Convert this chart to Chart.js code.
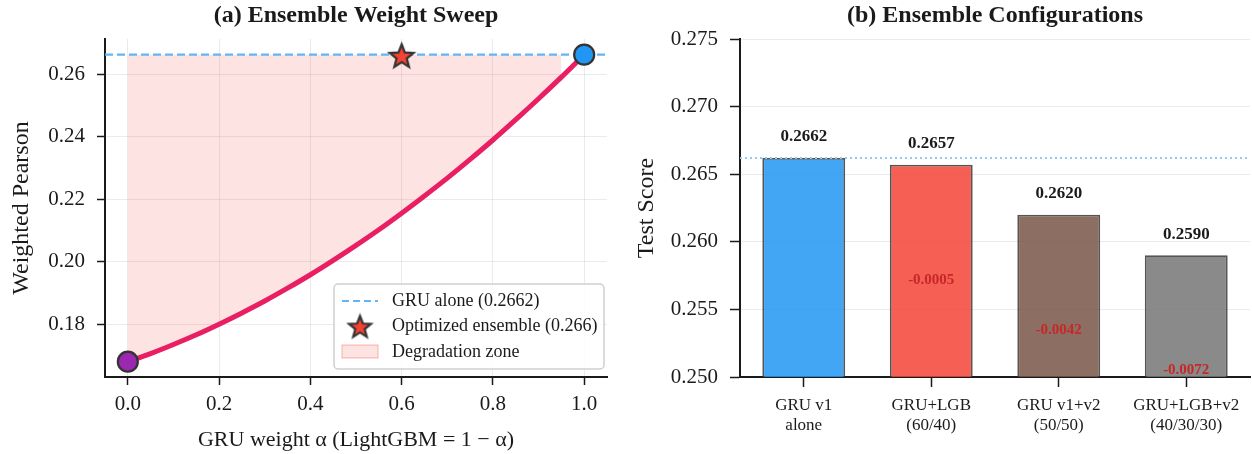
<!DOCTYPE html>
<html>
<head>
<meta charset="utf-8">
<script src="https://cdn.jsdelivr.net/npm/chart.js@4.4.1/dist/chart.umd.min.js"></script>
<style>
  html, body { margin: 0; padding: 0; background: #fff; }
  #wrap { position: relative; width: 1252px; height: 454px; }
  .panel { position: absolute; top: 0; height: 454px; }
</style>
</head>
<body>
<div id="wrap">
  <div class="panel" style="left:0;width:620px"><canvas id="sweepChart"></canvas></div>
  <div class="panel" style="left:620px;width:632px"><canvas id="configChart"></canvas></div>
</div>
<script>
// ---- data ----
const sweepAlpha = [0, 0.05, 0.1, 0.15, 0.2, 0.25, 0.3, 0.35, 0.4, 0.45, 0.5,
                    0.55, 0.6, 0.65, 0.7, 0.75, 0.8, 0.85, 0.9, 0.95, 1.0];
const sweepScore = [0.1680, 0.1706, 0.1735, 0.1766, 0.1800, 0.1836, 0.1874, 0.1915, 0.1958, 0.2004, 0.2052,
                    0.2102, 0.2155, 0.2210, 0.2267, 0.2327, 0.2389, 0.2454, 0.2521, 0.2590, 0.2662];
const degradationAlpha = [0, 0.05, 0.1, 0.15, 0.2, 0.25, 0.3, 0.35, 0.4, 0.45, 0.5,
                          0.55, 0.6, 0.65, 0.7, 0.75, 0.8, 0.85, 0.9, 0.95];
const gruAloneScore = 0.2662;
const optimizedAlpha = 0.6;
const optimizedScore = 0.266;
const sweepXTicks = [0, 0.2, 0.4, 0.6, 0.8, 1.0];
const sweepYTicks = [0.18, 0.20, 0.22, 0.24, 0.26];

const configLabels = [['GRU v1', 'alone'], ['GRU+LGB', '(60/40)'], ['GRU v1+v2', '(50/50)'], ['GRU+LGB+v2', '(40/30/30)']];
const configScores = [0.2662, 0.2657, 0.2620, 0.2590];
const configDeltas = [null, -0.0005, -0.0042, -0.0072];
const configYTicks = [0.250, 0.255, 0.260, 0.265, 0.270, 0.275];

// ---- shared look ----
const SERIF = "'Liberation Serif', 'Times New Roman', serif";
const INK = '#1a1a1a';
const GRID = 'rgba(0,0,0,0.08)';

function starImage(r, fill, stroke) {
  const c = document.createElement('canvas');
  const s = Math.ceil(r * 2 + 6);
  c.width = s; c.height = s;
  const g = c.getContext('2d');
  g.beginPath();
  for (let i = 0; i < 10; i++) {
    const rad = i % 2 ? r * 0.43 : r;
    const a = -Math.PI / 2 + i * Math.PI / 5;
    g.lineTo(s / 2 + rad * Math.cos(a), s / 2 + 1.5 + rad * Math.sin(a));
  }
  g.closePath();
  g.fillStyle = fill; g.fill();
  g.lineWidth = 2.2; g.strokeStyle = stroke; g.lineJoin = 'miter'; g.stroke();
  return c;
}
const star = starImage(12.5, '#f44336', '#333');
const legendStar = starImage(11.5, '#f44336', '#333');

// panel title drawn centred over the plot area
const panelTitle = {
  id: 'panelTitle',
  afterDraw(chart, args, opts) {
    const {ctx, chartArea} = chart;
    ctx.save();
    ctx.font = 'bold 24px ' + SERIF;
    ctx.fillStyle = INK;
    ctx.textAlign = 'center';
    ctx.textBaseline = 'middle';
    ctx.fillText(opts.text, (chartArea.left + chartArea.right) / 2, 16);
    ctx.restore();
  }
};

// legend box inside the sweep plot (lower right)
const sweepLegend = {
  id: 'sweepLegend',
  afterDraw(chart) {
    const {ctx} = chart;
    ctx.save();
    ctx.beginPath();
    ctx.roundRect(334, 284, 270, 85, 4);
    ctx.fillStyle = 'rgba(255,255,255,0.85)';
    ctx.fill();
    ctx.lineWidth = 1.5;
    ctx.strokeStyle = '#cfcfcf';
    ctx.stroke();

    ctx.strokeStyle = '#64b5f6';
    ctx.lineWidth = 2;
    ctx.setLineDash([7, 4]);
    ctx.beginPath(); ctx.moveTo(342, 301); ctx.lineTo(378, 301); ctx.stroke();
    ctx.setLineDash([]);

    ctx.drawImage(legendStar, 360 - legendStar.width / 2, 326 - legendStar.height / 2);

    ctx.fillStyle = 'rgba(244,67,54,0.15)';
    ctx.strokeStyle = 'rgba(244,67,54,0.25)';
    ctx.lineWidth = 1.5;
    ctx.fillRect(342, 345, 36, 13);
    ctx.strokeRect(342, 345, 36, 13);

    ctx.fillStyle = INK;
    ctx.font = '18px ' + SERIF;
    ctx.textBaseline = 'middle';
    ctx.fillText('GRU alone (0.2662)', 392, 301);
    ctx.fillText('Optimized ensemble (0.266)', 392, 326);
    ctx.fillText('Degradation zone', 392, 352);
    ctx.restore();
  }
};

new Chart(document.getElementById('sweepChart').getContext('2d'), {
  type: 'scatter',
  data: {
    datasets: [
      {
        label: 'Optimized ensemble (0.266)',
        data: [{x: optimizedAlpha, y: optimizedScore}],
        pointStyle: star,
        pointRadius: 12
      },
      {
        data: [{x: sweepAlpha[0], y: sweepScore[0]}],
        pointRadius: 10,
        backgroundColor: '#9c27b0',
        borderColor: '#333',
        borderWidth: 2.2
      },
      {
        data: [{x: sweepAlpha[sweepAlpha.length - 1], y: sweepScore[sweepScore.length - 1]}],
        pointRadius: 10,
        backgroundColor: '#2196f3',
        borderColor: '#333',
        borderWidth: 2.2
      },
      {
        data: sweepAlpha.map((a, i) => ({x: a, y: sweepScore[i]})),
        showLine: true,
        borderColor: '#e91e63',
        borderWidth: 5,
        pointRadius: 0,
        cubicInterpolationMode: 'monotone'
      },
      {
        label: 'GRU alone (0.2662)',
        data: [{x: -0.05, y: gruAloneScore}, {x: 1.05, y: gruAloneScore}],
        showLine: true,
        borderColor: '#64b5f6',
        borderWidth: 2.2,
        borderDash: [8, 4],
        pointRadius: 0
      },
      {
        label: 'Degradation zone',
        data: degradationAlpha.map((a, i) => ({x: a, y: sweepScore[i]})),
        showLine: true,
        fill: {value: gruAloneScore},
        backgroundColor: 'rgba(244,67,54,0.15)',
        borderColor: 'rgba(244,67,54,0.12)',
        borderWidth: 1,
        pointRadius: 0,
        cubicInterpolationMode: 'monotone'
      }
    ]
  },
  options: {
    responsive: true,
    maintainAspectRatio: false,
    animation: false,
    layout: { padding: { top: 39, right: 8, left: 0, bottom: 0 } },
    plugins: {
      legend: { display: false },
      tooltip: { enabled: false },
      panelTitle: { text: '(a) Ensemble Weight Sweep' }
    },
    scales: {
      x: {
        type: 'linear',
        min: -0.05, max: 1.05,
        afterBuildTicks: s => { s.ticks = sweepXTicks.map(v => ({value: v})); },
        afterFit: s => { s.height = 77; },
        ticks: {
          callback: v => v.toFixed(1),
          color: INK,
          padding: 7,
          font: { family: SERIF, size: 21 }
        },
        grid: { color: GRID, tickColor: INK, tickLength: 8, tickWidth: 1.5 },
        border: { color: INK, width: 2 },
        title: {
          display: true,
          text: 'GRU weight α (LightGBM = 1 − α)',
          color: INK,
          font: { family: SERIF, size: 22 },
          padding: { top: 0, bottom: 1 }
        }
      },
      y: {
        min: 0.1631, max: 0.2712,
        afterBuildTicks: s => { s.ticks = sweepYTicks.map(v => ({value: v})); },
        afterFit: s => { s.width = 105; },
        ticks: {
          callback: v => v.toFixed(2),
          color: INK,
          padding: 12,
          font: { family: SERIF, size: 21 }
        },
        grid: { color: GRID, tickColor: INK, tickLength: 8, tickWidth: 1.5 },
        border: { color: INK, width: 2 },
        title: {
          display: true,
          text: 'Weighted Pearson',
          color: INK,
          font: { family: SERIF, size: 24 },
          padding: { top: 7, bottom: 0 }
        }
      }
    }
  },
  plugins: [panelTitle, sweepLegend]
});

// value labels, delta labels and the GRU v1 reference line
const configAnnotations = {
  id: 'configAnnotations',
  afterDatasetsDraw(chart) {
    const {ctx, chartArea, scales: {x, y}} = chart;
    ctx.save();
    const yRef = y.getPixelForValue(configScores[0]);
    ctx.strokeStyle = '#90caf9';
    ctx.lineWidth = 2;
    ctx.setLineDash([2, 3]);
    ctx.beginPath(); ctx.moveTo(chartArea.left, yRef); ctx.lineTo(chartArea.right, yRef); ctx.stroke();
    ctx.setLineDash([]);

    ctx.textAlign = 'center';
    ctx.textBaseline = 'middle';
    configScores.forEach((v, i) => {
      const px = x.getPixelForValue(i);
      ctx.fillStyle = INK;
      ctx.font = 'bold 17px ' + SERIF;
      ctx.fillText(v.toFixed(4), px, y.getPixelForValue(v) - 21);
      if (configDeltas[i] !== null) {
        ctx.fillStyle = '#c62828';
        ctx.font = 'bold 15px ' + SERIF;
        ctx.fillText(configDeltas[i].toFixed(4), px, y.getPixelForValue(v - 0.0085));
      }
    });
    ctx.restore();
  }
};

new Chart(document.getElementById('configChart').getContext('2d'), {
  type: 'bar',
  data: {
    labels: configLabels,
    datasets: [{
      data: configScores,
      backgroundColor: ['rgba(33,150,243,0.85)', 'rgba(244,67,54,0.85)', 'rgba(121,85,72,0.85)', 'rgba(117,117,117,0.85)'],
      borderColor: 'rgba(55,55,55,0.85)',
      borderWidth: 1.8,
      borderSkipped: false,
      barPercentage: 0.65,
      categoryPercentage: 1
    }]
  },
  options: {
    responsive: true,
    maintainAspectRatio: false,
    animation: false,
    layout: { padding: { top: 39, right: 2, left: 0, bottom: 0 } },
    plugins: {
      legend: { display: false },
      tooltip: { enabled: false },
      panelTitle: { text: '(b) Ensemble Configurations' }
    },
    scales: {
      x: {
        afterFit: s => { s.height = 77; },
        ticks: {
          color: INK,
          padding: 8,
          font: { family: SERIF, size: 17 }
        },
        grid: { drawOnChartArea: false, offset: false, tickColor: INK, tickLength: 10, tickWidth: 1.5 },
        border: { color: INK, width: 2 }
      },
      y: {
        min: 0.25, max: 0.275,
        afterBuildTicks: s => { s.ticks = configYTicks.map(v => ({value: v})); },
        afterFit: s => { s.width = 120; },
        ticks: {
          callback: v => v.toFixed(3),
          color: INK,
          padding: 12,
          font: { family: SERIF, size: 21 }
        },
        grid: { color: GRID, tickColor: INK, tickLength: 10, tickWidth: 1.5 },
        border: { color: INK, width: 2 },
        title: {
          display: true,
          text: 'Test Score',
          color: INK,
          font: { family: SERIF, size: 24 },
          padding: { top: 12, bottom: 0 }
        }
      }
    }
  },
  plugins: [panelTitle, configAnnotations]
});
</script>
</body>
</html>
